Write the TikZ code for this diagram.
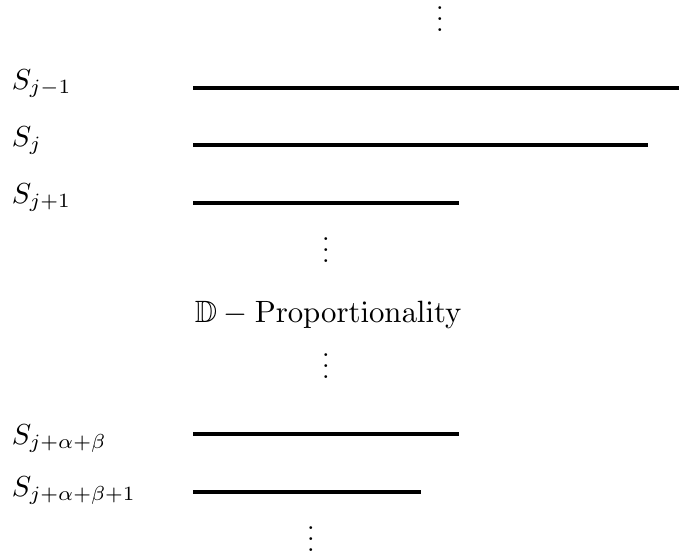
\documentclass[tikz,border=0pt]{standalone}
\usepackage{amssymb}
\begin{document}
\begin{tikzpicture}[x=0.37pt,y=-0.37pt,
  lbl/.style={anchor=base west,inner sep=0pt,outer sep=0pt,scale=1.07},
  vd/.style={anchor=base,inner sep=0pt,outer sep=0pt},
  mid/.style={anchor=base,inner sep=0pt,outer sep=0pt,scale=1.14},
  bar/.style={line width=1.6pt}]
\useasboundingbox (0,0) rectangle (679,555);
% labels
\node[lbl] (l1) at (12,89) {$S_{j-1}$};
\node[lbl] (l2) at (12,146) {$S_j$};
\node[lbl] (l3) at (12,203) {$S_{j+1}$};
\node[lbl] (l4) at (12,444) {$S_{j+\alpha+\beta}$};
\node[lbl] (l5) at (12,496) {$S_{j+\alpha+\beta+1}$};
% bars
\coordinate (a1) at (193,88);  \coordinate (b1) at (679,88);
\coordinate (a2) at (193,145); \coordinate (b2) at (648,145);
\coordinate (a3) at (193,203); \coordinate (b3) at (459,203);
\coordinate (a4) at (193,434); \coordinate (b4) at (459,434);
\coordinate (a5) at (193,492); \coordinate (b5) at (421,492);
\draw[bar] (a1) -- (b1);
\draw[bar] (a2) -- (b2);
\draw[bar] (a3) -- (b3);
\draw[bar] (a4) -- (b4);
\draw[bar] (a5) -- (b5);
% dots
\node[vd] (d0) at (440,31.5) {$\vdots$};
\node[vd] (d1) at (326,262.5) {$\vdots$};
\node[vd] (d2) at (326,378.5) {$\vdots$};
\node[vd] (d3) at (311,551.5) {$\vdots$};
% middle text
\node[mid] (p) at (328.5,322) {$\mathbb{D}-\mathrm{Proportionality}$};
\end{tikzpicture}
\end{document}
